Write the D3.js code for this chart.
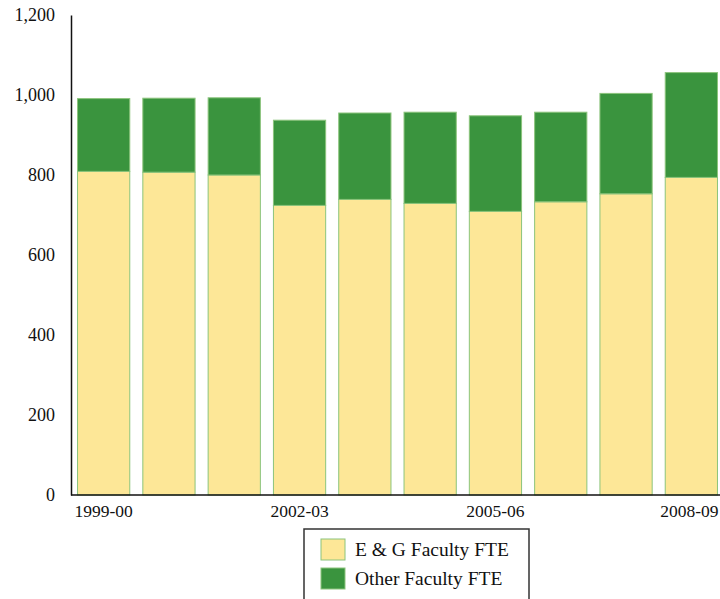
<!DOCTYPE html>
<html>
<head>
<meta charset="utf-8">
<script src="https://cdn.jsdelivr.net/npm/d3@7"></script>
<style>
  body { margin: 0; background: #fff; }
  svg text { font-family: "Liberation Serif", "Times New Roman", serif; fill: #111; }
</style>
</head>
<body>
<svg width="720" height="599"></svg>
<script>
// years along the x axis
let years = ["1999-00", "2000-01", "2001-02", "2002-03", "2003-04",
  "2004-05", "2005-06", "2006-07", "2007-08", "2008-09"];

// values
let egFaculty = [809, 807, 800, 724, 739, 729, 709, 733, 753, 794];
let otherFaculty = [182, 185, 193, 213, 216, 228, 239, 224, 251, 262];

let yTicks = [0, 200, 400, 600, 800, 1000, 1200];
let xTickLabels = ["1999-00", "2002-03", "2005-06", "2008-09"];

let seriesNames = ["E & G Faculty FTE", "Other Faculty FTE"];
let colors = ["#fde797", "#3a943e"];

// plot area
let plotLeft = 71, plotRight = 724, plotTop = 15, plotBottom = 495;

let svg = d3.select("svg");

let xScale = d3.scaleBand()
  .domain(years)
  .range([plotLeft, plotRight])
  .paddingInner(0.2)
  .paddingOuter(0.1);

let yScale = d3.scaleLinear()
  .domain([0, 1200])
  .range([plotBottom, plotTop]);

// stack the two series
let rows = years.map((y, i) => ({ year: y, eg: egFaculty[i], other: otherFaculty[i] }));
let stacked = d3.stack().keys(["eg", "other"])(rows);

svg.selectAll("g.series")
  .data(stacked)
  .enter()
  .append("g")
  .attr("class", "series")
  .attr("fill", (d, i) => colors[i])
  .selectAll("rect")
  .data(d => d)
  .enter()
  .append("rect")
  .attr("x", d => xScale(d.data.year))
  .attr("width", xScale.bandwidth())
  .attr("y", d => yScale(d[1]))
  .attr("height", d => yScale(d[0]) - yScale(d[1]))
  .attr("stroke", "#8cc47c")
  .attr("stroke-width", 1);

// y axis
let y_axis = d3.axisLeft(yScale)
  .tickValues(yTicks)
  .tickSize(0)
  .tickPadding(16)
  .tickFormat(d3.format(","));

svg.append("g")
  .attr("transform", "translate(" + plotLeft + ",0)")
  .call(y_axis)
  .call(g => g.select(".domain").attr("stroke", "#111").attr("stroke-width", 1.5))
  .call(g => g.selectAll("text").attr("font-size", 18).attr("font-family", null));

// x axis
let x_axis = d3.axisBottom(xScale)
  .tickValues(xTickLabels)
  .tickSize(0)
  .tickPadding(10);

svg.append("g")
  .attr("transform", "translate(0," + plotBottom + ")")
  .call(x_axis)
  .call(g => g.select(".domain").attr("d", "M" + plotLeft + ",0H720").attr("stroke", "#111").attr("stroke-width", 1.5))
  .call(g => g.selectAll("text").attr("font-size", 17.5).attr("font-family", null))
  .call(g => g.selectAll(".tick").filter(d => d === "2008-09").select("text").attr("dx", -2));

// legend
let legend = svg.append("g").attr("transform", "translate(304,529)");
legend.append("rect")
  .attr("width", 225)
  .attr("height", 80)
  .attr("fill", "#fff")
  .attr("stroke", "#333")
  .attr("stroke-width", 1.5);

let items = legend.selectAll("g.item")
  .data(seriesNames)
  .enter()
  .append("g")
  .attr("transform", (d, i) => "translate(17," + (10 + i * 29) + ")");

items.append("rect")
  .attr("width", 24)
  .attr("height", 21)
  .attr("fill", (d, i) => colors[i])
  .attr("stroke", "#8cc47c");

items.append("text")
  .attr("x", 34)
  .attr("y", 17)
  .attr("font-size", 19.5)
  .text(d => d);
</script>
</body>
</html>
